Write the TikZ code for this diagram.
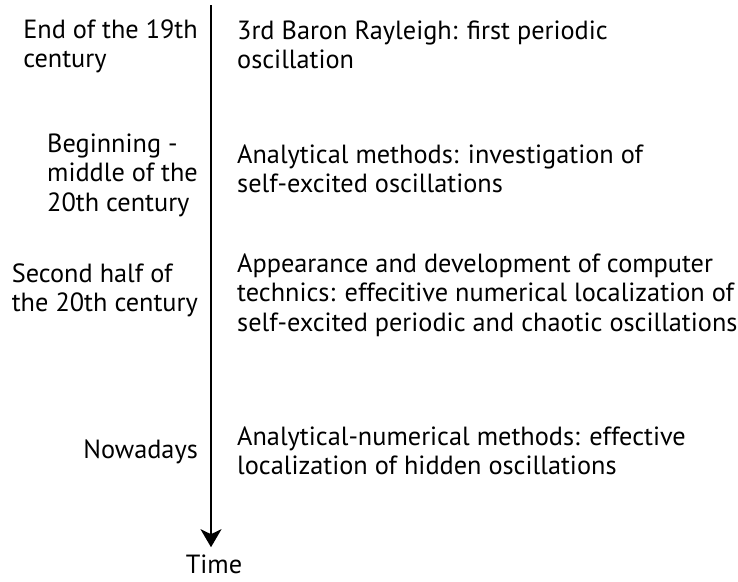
\documentclass[tikz,border=0pt]{standalone}
\usepackage{fontspec}
\setmainfont{PT Sans}
\usetikzlibrary{arrows.meta}
\begin{document}
\begin{tikzpicture}[x=1pt,y=1pt,
  txt/.style={inner sep=0pt,align=left,font=\fontsize{26.3}{29.5}\selectfont},
  era/.style={txt,anchor=base east},
  evt/.style={txt,anchor=base west},
  axis/.style={line width=1.8pt,-{Stealth[length=18pt,width=21pt,inset=5pt]}}]
\useasboundingbox (0,0) rectangle (738,-581);
\node[era] (e1) at (198,-67.5) {End of the 19th\\century};
\node[era] (e2) at (198,-211) {Beginning -\\middle of the\\20th century};
\node[era] (e3) at (198,-311.5) {Second half of\\the 20th century};
\node[era] (e4) at (198,-458) {Nowadays};
\node[evt] (v1) at (237,-68.5) {3rd Baron Rayleigh: first periodic\\oscillation};
\node[evt] (v2) at (237,-192.5) {Analytical methods: investigation of\\self-excited oscillations};
\node[evt] (v3) at (237,-331) {Appearance and development of computer\\technics: effecitive numerical localization of\\self-excited periodic and chaotic oscillations};
\node[evt] (v4) at (237,-474.5) {Analytical-numerical methods: effective\\localization of hidden oscillations};
\node[txt,anchor=base] (time) at (214,-573) {Time};
\coordinate (top) at (211,-5);
\draw[axis] (top) -- ([yshift=7pt]time.north -| top);
\end{tikzpicture}
\end{document}
